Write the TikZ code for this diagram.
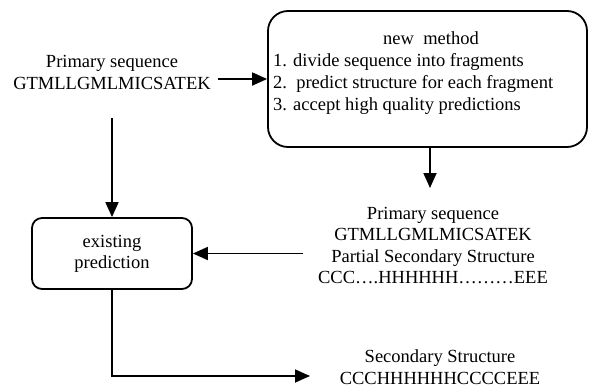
\documentclass[tikz,border=0pt]{standalone}
\usepackage{fontspec}
\setmainfont{Liberation Serif}
\usetikzlibrary{arrows.meta}
\tikzset{
  txt/.style={inner sep=0pt, align=center, font=\fontsize{18.5}{21.5}\selectfont},
  rbox/.style={draw, line width=1.8pt},
  arr/.style={draw, line width=1.8pt, -{Triangle[length=15pt,width=13pt]}}
}
\begin{document}
\begin{tikzpicture}[x=1pt,y=-1pt]
\useasboundingbox (0,0) rectangle (590,389);
% nodes
\node[txt] (prim) at (112,72.5) {Primary sequence\\GTMLLGMLMICSATEK};
\node[rbox, rounded corners=20pt, minimum width=319pt, minimum height=136pt] (method) at (427.5,79) {};
\node[txt, align=left, anchor=west, font=\fontsize{18.5}{22}\selectfont] (mtext) at (273,73.5) {\hspace*{110pt}new\ \ method\\1. divide sequence into fragments\\2.\ \ predict structure for each fragment\\3. accept high quality predictions};
\node[txt] (pss) at (433,245.5) {Primary sequence\\GTMLLGMLMICSATEK\\Partial Secondary Structure\\CCC….HHHHHH………EEE};
\node[rbox, rounded corners=10pt, minimum width=160pt, minimum height=71pt] (exist) at (112,253.5) {};
\node[txt] (etext) at (112,254) {existing\\prediction};
\node[txt] (sec) at (440,367) {Secondary Structure\\CCCHHHHHHCCCCEEE};
% coordinates
\coordinate (p1) at (218,79);
\coordinate (pdown) at (112,118);
\coordinate (mdown) at (430,147);
\coordinate (m2) at (430,188);
\coordinate (c2) at (303,253.5);
\coordinate (c3) at (310,376);
% connectors
\draw[arr] (p1) -- (method.west |- p1);
\draw[arr] (pdown) -- (exist.north);
\draw[arr] (mdown) -- (m2);
\draw[arr] (c2) -- (exist.east);
\draw[arr] (exist.south) |- (c3);
\end{tikzpicture}
\end{document}
